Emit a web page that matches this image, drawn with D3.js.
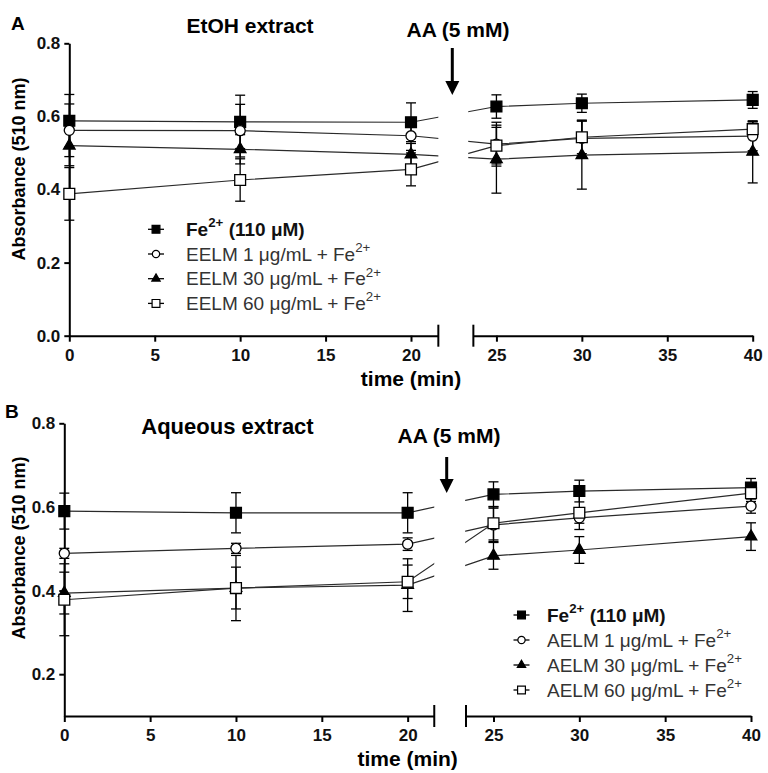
<!DOCTYPE html>
<html>
<head>
<meta charset="utf-8">
<script src="https://cdn.jsdelivr.net/npm/d3@7"></script>
<style>
  body { margin: 0; background: #fff; }
  svg { display: block; font-family: "Liberation Sans", Arial, sans-serif; }
  .axis path, .axis line { stroke: #000; stroke-width: 2; }
  .axis text { font-size: 17px; font-weight: bold; fill: #111; font-family: "Liberation Sans", Arial, sans-serif; }
</style>
</head>
<body>
<div id="chart"></div>
<script>
// sampling times (min)
const times = [0, 10, 20, 25, 30, 40];
const xTicksLeft = [0, 5, 10, 15, 20];
const xTicksRight = [25, 30, 35, 40];
const yTicksA = [0, 0.2, 0.4, 0.6, 0.8];
const yTicksB = [0.2, 0.4, 0.6, 0.8];

// panel A – EtOH extract
const feA = [0.588, 0.585, 0.584, 0.627, 0.636, 0.645];
const feAErr = [0.072, 0.073, 0.053, 0.032, 0.025, 0.023];
const eelm1 = [0.562, 0.561, 0.547, 0.524, 0.540, 0.546];
const eelm1Err = [0.072, 0.072, 0.040, 0.060, 0.050, 0.040];
const eelm30 = [0.520, 0.510, 0.496, 0.483, 0.494, 0.503];
const eelm30Err = [0.055, 0.040, 0.030, 0.093, 0.093, 0.085];
const eelm60 = [0.388, 0.426, 0.455, 0.520, 0.543, 0.565];
const eelm60Err = [0.072, 0.058, 0.045, 0.050, 0.045, 0.020];
const legendA = ['Fe^{2+} (110 μM)', 'EELM 1 μg/mL + Fe^{2+}', 'EELM 30 μg/mL + Fe^{2+}', 'EELM 60 μg/mL + Fe^{2+}'];

// panel B – aqueous extract
const feB = [0.590, 0.586, 0.586, 0.630, 0.638, 0.646];
const feBErr = [0.043, 0.048, 0.048, 0.030, 0.026, 0.022];
const aelm1 = [0.489, 0.501, 0.511, 0.557, 0.574, 0.602];
const aelm1Err = [0.012, 0.012, 0.015, 0.040, 0.013, 0.017];
const aelm30 = [0.394, 0.406, 0.413, 0.483, 0.497, 0.529];
const aelm30Err = [0.050, 0.050, 0.063, 0.032, 0.032, 0.033];
const aelm60 = [0.378, 0.406, 0.421, 0.561, 0.586, 0.633];
const aelm60Err = [0.086, 0.078, 0.040, 0.040, 0.040, 0.020];
const legendB = ['Fe^{2+} (110 μM)', 'AELM 1 μg/mL + Fe^{2+}', 'AELM 30 μg/mL + Fe^{2+}', 'AELM 60 μg/mL + Fe^{2+}'];

const markers = ['square', 'circle', 'triangle', 'openSquare'];

const svg = d3.select('#chart').append('svg')
  .attr('width', 768)
  .attr('height', 773);

svg.append('rect').attr('width', 768).attr('height', 773).attr('fill', '#fff');

function markerPath(type, scale) {
  const k = scale || 1;
  if (type === 'circle') return d3.symbol(d3.symbolCircle, 80 * k * k)();
  if (type === 'triangle') return d3.symbol(d3.symbolTriangle, 58 * k * k)();
  return d3.symbol(d3.symbolSquare, 118 * k * k)();
}
function markerFill(type) {
  return (type === 'square' || type === 'triangle') ? '#000' : '#fff';
}

// text with ^{...} superscripts
function richText(sel, str, size) {
  const parts = str.split(/(\^\{[^}]*\})/).filter(s => s.length);
  let raised = false;
  parts.forEach(p => {
    if (p.startsWith('^{')) {
      sel.append('tspan').attr('dy', -size * 0.45).attr('font-size', size * 0.7).text(p.slice(2, -1));
      raised = true;
    } else {
      const t = sel.append('tspan').text(p);
      if (raised) { t.attr('dy', size * 0.45); raised = false; }
    }
  });
}

function drawPanel(p) {
  const g = svg.append('g');
  const x = d3.scaleLinear().domain([0, 40]).range(p.xRange);
  const y = d3.scaleLinear().domain(p.yDomain).range(p.yRange);
  const y0 = p.yRange[0];

  // clip lines at the axis break
  const clipId = 'clip' + p.id;
  const cp = svg.append('clipPath').attr('id', clipId);
  cp.append('rect').attr('x', 0).attr('y', 0).attr('width', x(p.lineGap[0])).attr('height', 773);
  cp.append('rect').attr('x', x(p.lineGap[1])).attr('y', 0).attr('width', 768 - x(p.lineGap[1])).attr('height', 773);

  // axes
  const xs1 = d3.scaleLinear().domain([0, p.axisBreak[0]]).range([x(0), x(p.axisBreak[0])]);
  const xs2 = d3.scaleLinear().domain([p.axisBreak[1], 40]).range([x(p.axisBreak[1]), x(40)]);
  [[xs1, xTicksLeft], [xs2, xTicksRight]].forEach(([sc, tv]) => {
    const ax = g.append('g').attr('class', 'axis')
      .attr('transform', `translate(0,${y0})`)
      .call(d3.axisBottom(sc).tickValues(tv).tickSize(6).tickSizeOuter(0).tickPadding(4));
    ax.selectAll('text').attr('dy', '0.9em');
  });
  // break marks
  [p.axisBreak[0], p.axisBreak[1]].forEach(v => {
    g.append('line')
      .attr('x1', x(v)).attr('x2', x(v))
      .attr('y1', y0 - 11).attr('y2', y0 + 11)
      .attr('stroke', '#000').attr('stroke-width', 2);
  });
  g.append('g').attr('class', 'axis')
    .attr('transform', `translate(${x(0)},0)`)
    .call(d3.axisLeft(y).tickValues(p.yTicks).tickFormat(d3.format('.1f')).tickSize(5).tickSizeOuter(0).tickPadding(4));

  // lines
  const line = d3.line().x((d, i) => x(times[i])).y(d => y(d));
  p.series.forEach(s => {
    g.append('path')
      .attr('d', line(s.values))
      .attr('clip-path', `url(#${clipId})`)
      .attr('fill', 'none')
      .attr('stroke', '#2a2a2a')
      .attr('stroke-width', 1.2);
  });

  // error bars
  p.series.forEach(s => {
    s.values.forEach((v, i) => {
      const cx = x(times[i]);
      const lo = y(v - s.err[i]), hi = y(v + s.err[i]);
      g.append('line').attr('x1', cx).attr('x2', cx).attr('y1', lo).attr('y2', hi)
        .attr('stroke', '#000').attr('stroke-width', 1.3);
      [lo, hi].forEach(yy => {
        g.append('line').attr('x1', cx - 5).attr('x2', cx + 5).attr('y1', yy).attr('y2', yy)
          .attr('stroke', '#000').attr('stroke-width', 1.3);
      });
    });
  });

  // markers
  p.series.forEach(s => {
    g.selectAll(null).data(s.values).enter().append('path')
      .attr('d', markerPath(s.marker))
      .attr('transform', (d, i) => `translate(${x(times[i])},${y(d)})`)
      .attr('fill', markerFill(s.marker))
      .attr('stroke', '#000')
      .attr('stroke-width', 1.3);
  });

  // legend
  p.series.forEach((s, i) => {
    const ly = p.legend.y + i * p.legend.step;
    const lg = g.append('g');
    lg.append('line').attr('x1', p.legend.x - 8).attr('x2', p.legend.x + 8)
      .attr('y1', ly).attr('y2', ly).attr('stroke', '#000').attr('stroke-width', 1.3);
    lg.append('path').attr('d', markerPath(s.marker, 0.72))
      .attr('transform', `translate(${p.legend.x},${ly})`)
      .attr('fill', markerFill(s.marker)).attr('stroke', '#000').attr('stroke-width', 1.2);
    const t = lg.append('text')
      .attr('x', p.legend.textX).attr('y', ly + 6.5)
      .attr('font-size', 19)
      .attr('font-weight', i === 0 ? 'bold' : 'normal')
      .attr('fill', i === 0 ? '#111' : '#333');
    richText(t, s.label, 19);
  });

  // titles
  svg.append('text').attr('x', p.letter[0]).attr('y', p.letter[1])
    .attr('font-size', 19).attr('font-weight', 'bold').text(p.id);
  svg.append('text').attr('x', p.title[0]).attr('y', p.title[1])
    .attr('text-anchor', 'middle').attr('font-size', p.titleSize).attr('font-weight', 'bold').text(p.titleText);
  svg.append('text').attr('x', p.aa[0]).attr('y', p.aa[1])
    .attr('text-anchor', 'middle').attr('font-size', 21).attr('font-weight', 'bold').text('AA (5 mM)');
  const [ax0, ay0, ay1] = p.arrow;
  svg.append('line').attr('x1', ax0).attr('x2', ax0).attr('y1', ay0).attr('y2', ay1 - 12)
    .attr('stroke', '#000').attr('stroke-width', 3);
  svg.append('path')
    .attr('d', `M${ax0 - 7},${ay1 - 14}L${ax0 + 7},${ay1 - 14}L${ax0},${ay1}Z`)
    .attr('fill', '#000');
  svg.append('text')
    .attr('transform', `translate(${p.yTitle[0]},${p.yTitle[1]}) rotate(-90)`)
    .attr('text-anchor', 'middle').attr('font-size', 18).attr('font-weight', 'bold')
    .text('Absorbance (510 nm)');
  svg.append('text').attr('x', x(20)).attr('y', p.xTitleY)
    .attr('text-anchor', 'middle').attr('font-size', 21).attr('font-weight', 'bold')
    .text('time (min)');
}

drawPanel({
  id: 'A',
  xRange: [69.3, 752.7],
  yDomain: [0, 0.8],
  yRange: [335.7, 43.3],
  yTicks: yTicksA,
  axisBreak: [21.6, 23.65],
  lineGap: [21.6, 23.35],
  series: [
    { values: feA, err: feAErr, marker: markers[0], label: legendA[0] },
    { values: eelm1, err: eelm1Err, marker: markers[1], label: legendA[1] },
    { values: eelm30, err: eelm30Err, marker: markers[2], label: legendA[2] },
    { values: eelm60, err: eelm60Err, marker: markers[3], label: legendA[3] }
  ],
  legend: { x: 156, textX: 186, y: 229.3, step: 24.7 },
  letter: [11, 30],
  title: [250, 33],
  titleSize: 21,
  titleText: 'EtOH extract',
  aa: [458, 37],
  arrow: [452.3, 48, 95],
  yTitle: [25, 169],
  xTitleY: 386
});

drawPanel({
  id: 'B',
  xRange: [64.3, 751],
  yDomain: [0.1, 0.8],
  yRange: [716, 423.3],
  yTicks: yTicksB,
  axisBreak: [21.55, 23.4],
  lineGap: [21.55, 23.35],
  series: [
    { values: feB, err: feBErr, marker: markers[0], label: legendB[0] },
    { values: aelm1, err: aelm1Err, marker: markers[1], label: legendB[1] },
    { values: aelm30, err: aelm30Err, marker: markers[2], label: legendB[2] },
    { values: aelm60, err: aelm60Err, marker: markers[3], label: legendB[3] }
  ],
  legend: { x: 521.5, textX: 547, y: 615, step: 25 },
  letter: [5, 418],
  title: [227.5, 434],
  titleSize: 22,
  titleText: 'Aqueous extract',
  aa: [449, 443],
  arrow: [446.7, 457, 493],
  yTitle: [25, 548],
  xTitleY: 766
});
</script>
</body>
</html>
